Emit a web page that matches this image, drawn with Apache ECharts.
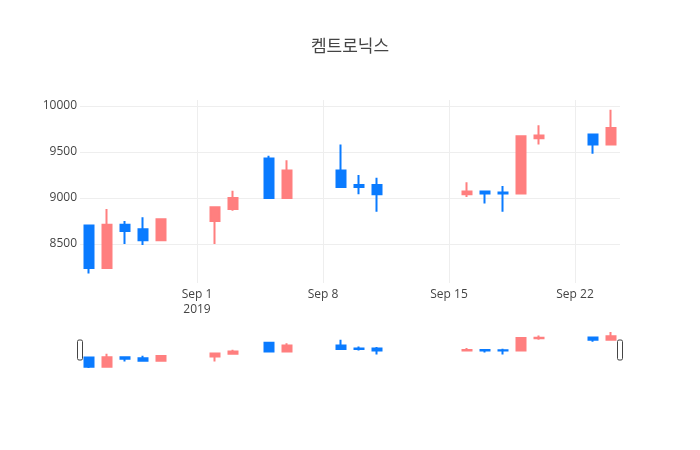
<!DOCTYPE html>
<html><head><meta charset="utf-8">
<script src="https://cdn.jsdelivr.net/npm/echarts@6/dist/echarts.min.js"></script>
<style>html,body{margin:0;padding:0;background:#fff}#c{width:700px;height:450px}</style>
</head><body><div id="c"></div>
<script>
const title = '켐트로닉스';
const dates = ['2019-08-26','2019-08-27','2019-08-28','2019-08-29','2019-08-30','2019-09-02','2019-09-03','2019-09-05','2019-09-06','2019-09-09','2019-09-10','2019-09-11','2019-09-16','2019-09-17','2019-09-18','2019-09-19','2019-09-20','2019-09-23','2019-09-24'];
const opens  = [8700,8240,8710,8660,8540,8750,8880,9430,9000,9300,9140,9140,9040,9070,9060,9050,9650,9690,9580];
const closes = [8240,8710,8640,8540,8770,8900,9000,9000,9300,9120,9120,9040,9070,9050,9050,9670,9680,9580,9760];
const lows   = [8180,8240,8500,8490,8540,8500,8860,9000,9000,9120,9040,8850,9010,8940,8850,9050,9580,9480,9580];
const highs  = [8700,8880,8750,8790,8780,8900,9080,9460,9410,9580,9250,9220,9170,9070,9130,9670,9790,9700,9960];
const tickDates = ['2019-09-01','2019-09-08','2019-09-15','2019-09-22'];
const tickLabels = ['Sep 1\n2019','Sep 8','Sep 15','Sep 22'];
const yTicks = [8500,9000,9500,10000];

const UP = '#FF7F7F', DOWN = '#0A7BFF';
function ts(s){const p=s.split('-').map(Number);return new Date(p[0],p[1]-1,p[2]).getTime();}
const HALF = 12*3600*1000;
const xMin = ts(dates[0]) - HALF, xMax = ts(dates[dates.length-1]) + HALF;
const yMin = 8076, yMax = 10065;
const tickTs = tickDates.map(ts);
const candles = dates.map((d,i)=>[ts(d), opens[i], closes[i], lows[i], highs[i]]);

const chart = echarts.init(document.getElementById('c'), null, {renderer:'canvas'});
const font = '"Open Sans", verdana, Arial, sans-serif';
const itemStyle = {color: UP, color0: DOWN, borderColor: UP, borderColor0: DOWN, borderWidth: 2};
chart.setOption({
  animation: false,
  backgroundColor: '#fff',
  title: {text: title, left: 'center', top: 32,
    textStyle: {fontFamily: '"Noto Sans CJK KR", "Open Sans", sans-serif', fontSize: 17, fontWeight: 'normal', color: '#444'}},
  grid: [
    {left: 80, right: 80, top: 100, height: 183},
    {left: 80, right: 80, top: 330, height: 40}
  ],
  xAxis: [
    {type: 'value', gridIndex: 0, min: xMin, max: xMax, scale: true,
     axisLine: {show: false}, axisTick: {show: false, customValues: tickTs},
     axisLabel: {customValues: tickTs, color: '#444', fontFamily: font, fontSize: 12, margin: 4, lineHeight: 15,
       formatter: function(v){const i = tickTs.indexOf(+v); return i >= 0 ? tickLabels[i] : '';}},
     splitLine: {show: true, lineStyle: {color: '#eee', width: 1}}},
    {type: 'value', gridIndex: 1, min: xMin, max: xMax, scale: true, show: false,
     axisLine: {show: false}, axisTick: {show: false}, axisLabel: {show: false}, splitLine: {show: false}}
  ],
  yAxis: [
    {type: 'value', gridIndex: 0, min: yMin, max: yMax, scale: true,
     axisLine: {show: false}, axisTick: {show: false, customValues: yTicks},
     axisLabel: {customValues: yTicks, color: '#444', fontFamily: font, fontSize: 12, margin: 3,
       formatter: function(v){return String(v);}},
     splitLine: {show: true, lineStyle: {color: '#eee', width: 1}}},
    {type: 'value', gridIndex: 1, min: yMin, max: yMax, scale: true, show: false,
     splitLine: {show: false}}
  ],
  series: [
    {type: 'candlestick', xAxisIndex: 0, yAxisIndex: 0, data: candles, barWidth: 9,
     encode: {x: 0, y: [1,2,3,4]}, itemStyle: itemStyle},
    {type: 'candlestick', xAxisIndex: 1, yAxisIndex: 1, data: candles, barWidth: 9,
     encode: {x: 0, y: [1,2,3,4]}, itemStyle: itemStyle, silent: true}
  ]
});
const pL = chart.convertToPixel({gridIndex: 1}, [xMin, yMax]);
const pR = chart.convertToPixel({gridIndex: 1}, [xMax, yMin]);
const midY = (pL[1] + pR[1]) / 2;
chart.setOption({
  graphic: [
    {type: 'rect', shape: {x: pL[0] - 2.5, y: midY - 10, width: 5, height: 20, r: 1.5},
     style: {fill: '#fff', stroke: '#444', lineWidth: 1}},
    {type: 'rect', shape: {x: pR[0] - 2.5, y: midY - 10, width: 5, height: 20, r: 1.5},
     style: {fill: '#fff', stroke: '#444', lineWidth: 1}}
  ]
});
</script></body></html>
